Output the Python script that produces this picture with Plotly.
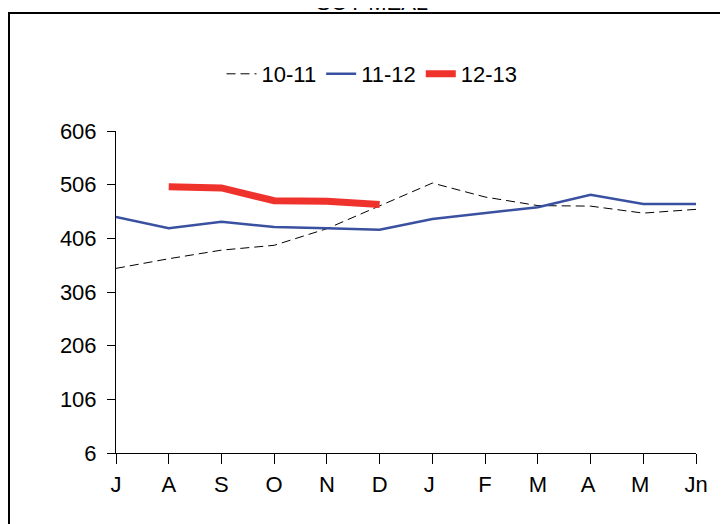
import plotly.graph_objects as go

# Monthly values, marketing year July-June
months = ["J", "A", "S", "O", "N", "D", "J ", "F", "M", "A ", "M ", "Jn"]
s_10_11 = [350, 368, 384, 393, 424, 467, 509, 483, 467, 466, 453, 460]
s_11_12 = [446, 425, 437, 427, 425, 422, 442, 453, 464, 487, 470, 470]
s_12_13 = [None, 502, 500, 476, 475, 469, None, None, None, None, None, None]
y_ticks = [6, 106, 206, 306, 406, 506, 606]

# the page adds an 8px body margin, so pixel positions below are figure pixels
W, H = 728, 524
L, R, T, B = 108, 40, 123, 79
pw, ph = W - L - R, H - T - B

font = dict(family="Liberation Sans, Arial", size=22, color="black")

fig = go.Figure()
fig.add_trace(go.Scatter(x=months, y=s_10_11, name="10-11", mode="lines",
                         line=dict(color="black", width=1, dash="9px,5px")))
fig.add_trace(go.Scatter(x=months, y=s_11_12, name="11-12", mode="lines",
                         line=dict(color="#3a50a0", width=2.5)))
fig.add_trace(go.Scatter(x=months, y=s_12_13, name="12-13", mode="lines",
                         line=dict(color="#f0322d", width=7)))

# outer frame, running off the right and bottom edges
fig.add_shape(type="rect", xref="paper", yref="paper",
              x0=(1 - L) / pw, x1=(W + 10 - L) / pw,
              y0=-(B + 10) / ph, y1=(H - B - 5) / ph,
              line=dict(color="black", width=2), layer="below")

# title mostly cut off above the picture
fig.add_annotation(text="SOY MEAL", xref="paper", yref="paper",
                   x=(364 - L) / pw, y=(H - B - 9) / ph,
                   xanchor="center", yanchor="bottom", showarrow=False,
                   font=font)

fig.update_layout(
    width=W, height=H,
    margin=dict(l=L, r=R, t=T, b=B),
    paper_bgcolor="white", plot_bgcolor="white",
    font=font,
    showlegend=True,
    legend=dict(orientation="h", x=(364 - L) / pw, xanchor="center",
                y=(H - B - 66) / ph, yanchor="middle",
                font=font, itemwidth=30, bgcolor="rgba(0,0,0,0)"),
)
fig.update_xaxes(range=[0, 11], showgrid=False, zeroline=False,
                 showline=True, linecolor="black", linewidth=1,
                 ticks="outside", ticklen=10, tickcolor="black",
                 tickfont=font, ticklabelstandoff=2, fixedrange=True)
fig.update_yaxes(range=[6, 606], tickvals=y_ticks, showgrid=False,
                 zeroline=False, showline=True, linecolor="black",
                 linewidth=1, ticks="outside", ticklen=8,
                 tickcolor="black", tickfont=font, ticklabelstandoff=6,
                 fixedrange=True)

fig.write_html("out.html")
